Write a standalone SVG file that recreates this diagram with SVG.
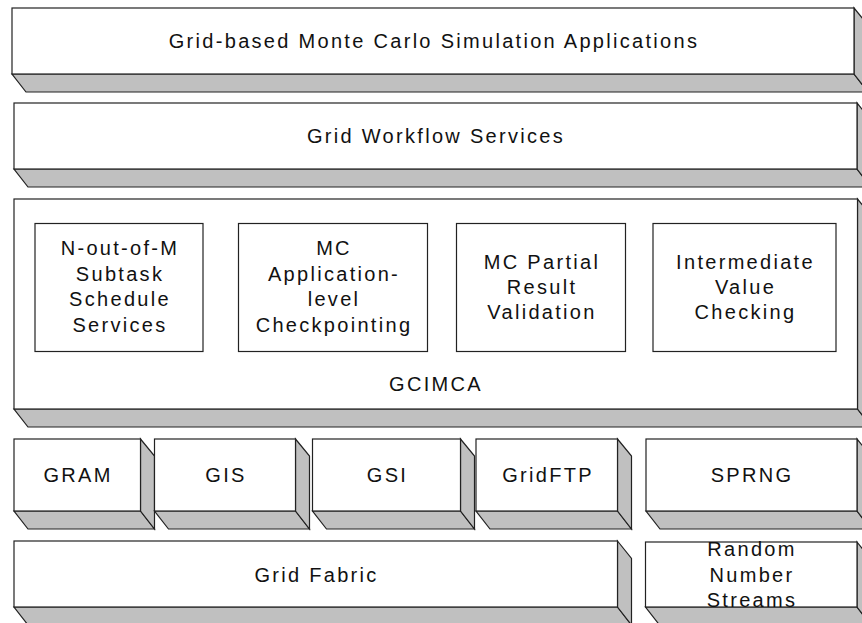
<svg xmlns="http://www.w3.org/2000/svg" width="862" height="623" viewBox="0 0 862 623">
<style>
.front{fill:#ffffff;stroke:#222;stroke-width:1.2}
.side{fill:#c0c0c0;stroke:#222;stroke-width:1.2;stroke-linejoin:miter}
.inner{fill:#ffffff;stroke:#222;stroke-width:1.2}
text{font-family:"Liberation Sans",Arial,sans-serif;font-size:20px;letter-spacing:2.3px;fill:#111;text-anchor:middle}
</style>
<rect width="862" height="623" fill="#ffffff"/>
<g id="apps">
<polygon class="side" points="12,74 854,74 868,92 26,92"/>
<polygon class="side" points="854,8 868,25 868,92 854,74"/>
<rect class="front" x="12" y="8" width="842" height="66"/>
<text x="434" y="48">Grid-based Monte Carlo Simulation Applications</text>
</g>
<g id="workflow">
<polygon class="side" points="14,169 857,169 871,187 28,187"/>
<polygon class="side" points="857,103 871,120 871,187 857,169"/>
<rect class="front" x="14" y="103" width="843" height="66"/>
<text x="436" y="143">Grid Workflow Services</text>
</g>
<g id="gcimca">
<polygon class="side" points="14,409 857.5,409 871.5,427 28,427"/>
<polygon class="side" points="857.5,199 871.5,216 871.5,427 857.5,409"/>
<rect class="front" x="14" y="199" width="843.5" height="210"/>
<text x="436" y="391">GCIMCA</text>
</g>
<g id="nofm">
<rect class="inner" x="35" y="223.5" width="168" height="128"/>
<text x="120" y="255">N-out-of-M</text>
<text x="120" y="280.5">Subtask</text>
<text x="120" y="306">Schedule</text>
<text x="120" y="331.5">Services</text>
</g>
<g id="checkpoint">
<rect class="inner" x="238.5" y="223.5" width="189" height="128"/>
<text x="334" y="255">MC</text>
<text x="334" y="280.5">Application-</text>
<text x="334" y="306">level</text>
<text x="334" y="331.5">Checkpointing</text>
</g>
<g id="partial">
<rect class="inner" x="456.5" y="223.5" width="169" height="128"/>
<text x="542" y="268.5">MC Partial</text>
<text x="542" y="293.5">Result</text>
<text x="542" y="318.5">Validation</text>
</g>
<g id="intermediate">
<rect class="inner" x="653" y="223.5" width="183" height="128"/>
<text x="745.5" y="268.5">Intermediate</text>
<text x="745.5" y="293.5">Value</text>
<text x="745.5" y="318.5">Checking</text>
</g>
<g id="gram">
<polygon class="side" points="14,511 140.5,511 154.5,529 28,529"/>
<polygon class="side" points="140.5,439 154.5,456 154.5,529 140.5,511"/>
<rect class="front" x="14" y="439" width="126.5" height="72"/>
<text x="78" y="482">GRAM</text>
</g>
<g id="gis">
<polygon class="side" points="154.5,511 295.5,511 309.5,529 168.5,529"/>
<polygon class="side" points="295.5,439 309.5,456 309.5,529 295.5,511"/>
<rect class="front" x="154.5" y="439" width="141" height="72"/>
<text x="226" y="482">GIS</text>
</g>
<g id="gsi">
<polygon class="side" points="312.5,511 460.5,511 474.5,529 326.5,529"/>
<polygon class="side" points="460.5,439 474.5,456 474.5,529 460.5,511"/>
<rect class="front" x="312.5" y="439" width="148" height="72"/>
<text x="387.5" y="482">GSI</text>
</g>
<g id="gridftp">
<polygon class="side" points="476,511 617.5,511 631.5,529 490,529"/>
<polygon class="side" points="617.5,439 631.5,456 631.5,529 617.5,511"/>
<rect class="front" x="476" y="439" width="141.5" height="72"/>
<text x="548" y="482">GridFTP</text>
</g>
<g id="sprng">
<polygon class="side" points="646,511 857,511 871,529 660,529"/>
<polygon class="side" points="857,439 871,456 871,529 857,511"/>
<rect class="front" x="646" y="439" width="211" height="72"/>
<text x="752" y="482">SPRNG</text>
</g>
<g id="fabric">
<polygon class="side" points="14,607 617.5,607 631.5,625 28,625"/>
<polygon class="side" points="617.5,541 631.5,558.5 631.5,625 617.5,607"/>
<rect class="front" x="14" y="541" width="603.5" height="66"/>
<text x="316.5" y="582">Grid Fabric</text>
</g>
<g id="random">
<polygon class="side" points="645.5,607 857,607 871,625 659.5,625"/>
<polygon class="side" points="857,542 871,559.5 871,625 857,607"/>
<rect class="front" x="645.5" y="542" width="211.5" height="65"/>
<text x="752" y="556">Random</text>
<text x="752" y="581.5">Number</text>
<text x="752" y="607">Streams</text>
</g>
<g id="connectors"/>
</svg>
